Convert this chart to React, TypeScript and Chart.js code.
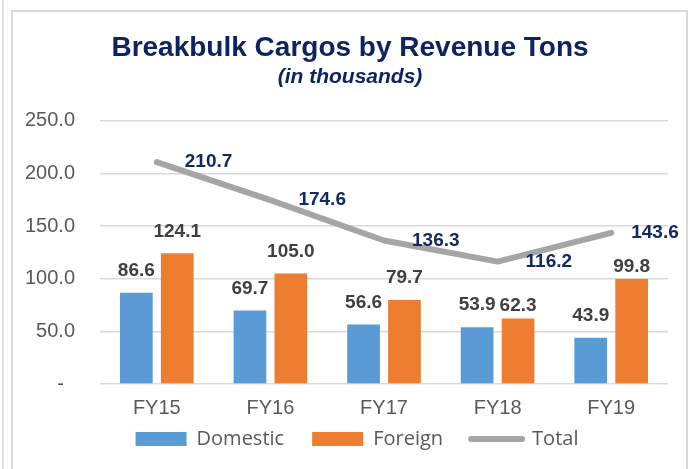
import React, { useEffect, useRef } from "react";
import { Chart, registerables } from "chart.js";

Chart.register(...registerables);

const categories = ["FY15", "FY16", "FY17", "FY18", "FY19"];
const domestic = [86.6, 69.7, 56.6, 53.9, 43.9];
const foreign = [124.1, 105.0, 79.7, 62.3, 99.8];
const total = [210.7, 174.6, 136.3, 116.2, 143.6];
const yTicks = [0, 50, 100, 150, 200, 250];

// label offsets (style only)
const barLabelLift = [
  [22, 22, 22, 22, 22],
  [22, 22, 22, 13, 12],
];
const totalLabelDx = [28, 28, 28, 28, 20];

const ARIAL = "'Liberation Sans', Arial, sans-serif";

const labelPlugin = {
  id: "valueLabels",
  afterLayout(chart: any) {
    // widen label clip areas so the tick labels are not cut
    chart.scales.y.left = 0;
    chart.scales.x.bottom = chart.height;
    // nudge legend to the right
    chart.legend.left += 7;
    chart.legend.right += 7;
  },
  afterDatasetsDraw(chart: any) {
    const ctx = chart.ctx;
    ctx.save();
    [0, 1].forEach((di) => {
      const meta = chart.getDatasetMeta(di);
      const data = chart.data.datasets[di].data as number[];
      meta.data.forEach((el: any, i: number) => {
        ctx.font = `bold 19px ${ARIAL}`;
        ctx.fillStyle = "#404040";
        ctx.textAlign = "center";
        ctx.textBaseline = "middle";
        ctx.fillText(data[i].toFixed(1), el.x, el.y - barLabelLift[di][i]);
      });
    });
    const lm = chart.getDatasetMeta(2);
    const td = chart.data.datasets[2].data as number[];
    lm.data.forEach((el: any, i: number) => {
      ctx.font = `bold 19px ${ARIAL}`;
      ctx.fillStyle = "#112A63";
      ctx.textAlign = "left";
      ctx.textBaseline = "middle";
      ctx.fillText(td[i].toFixed(1), el.x + totalLabelDx[i], el.y);
    });
    ctx.restore();
  },
};

export default function App() {
  const ref = useRef<HTMLCanvasElement>(null);
  useEffect(() => {
    if (!ref.current) return;
    const chart = new Chart(ref.current, {
      type: "bar",
      data: {
        labels: categories,
        datasets: [
          {
            type: "bar",
            label: "Domestic",
            data: domestic,
            backgroundColor: "#5B9BD5",
            categoryPercentage: 0.72,
            barPercentage: 0.8,
            order: 2,
          },
          {
            type: "bar",
            label: "Foreign",
            data: foreign,
            backgroundColor: "#ED7D31",
            categoryPercentage: 0.72,
            barPercentage: 0.8,
            order: 2,
          },
          {
            type: "line",
            label: "Total",
            data: total,
            borderColor: "#A5A5A5",
            backgroundColor: "#A5A5A5",
            borderWidth: 6,
            pointRadius: 0,
            borderCapStyle: "round",
            borderJoinStyle: "round",
            tension: 0,
            order: 1,
          },
        ],
      } as any,
      options: {
        responsive: false,
        animation: false,
        layout: { padding: { left: 32, right: 20, top: 14, bottom: 10 } },
        scales: {
          x: {
            grid: { display: false, drawTicks: false },
            border: { display: false },
            ticks: { color: "#595959", font: { family: ARIAL, size: 20 }, padding: 12 },
            afterFit: (s: any) => {
              s.height = 17;
            },
          },
          y: {
            min: 0,
            max: 250,
            afterBuildTicks: (s: any) => {
              s.ticks = yTicks.map((v) => ({ value: v }));
            },
            grid: { color: "#D9D9D9", lineWidth: 1.5, drawTicks: false },
            border: { display: false },
            ticks: {
              color: "#595959",
              font: { family: ARIAL, size: 20 },
              padding: 25,
              callback: (v: any) => (Number(v) === 0 ? "-  " : Number(v).toFixed(1)),
            },
            afterFit: (s: any) => {
              s.width = 68;
            },
          },
        },
        plugins: {
          title: {
            display: true,
            text: "Breakbulk Cargos by Revenue Tons",
            color: "#0C2461",
            font: { family: ARIAL, size: 28, weight: "bold" },
            padding: { top: 17, bottom: 0 },
          },
          subtitle: {
            display: true,
            text: "(in thousands)",
            color: "#0C2461",
            font: { family: ARIAL, size: 21, weight: "bold", style: "italic" },
            padding: { top: 0, bottom: 31 },
          },
          legend: {
            position: "bottom",
            labels: {
              usePointStyle: true,
              pointStyleWidth: 51,
              boxHeight: 14,
              padding: 28,
              color: "#595959",
              font: { family: "'Open Sans', sans-serif", size: 20 },
              sort: (a: any, b: any) => a.datasetIndex - b.datasetIndex,
              generateLabels: (c: any) =>
                Chart.defaults.plugins.legend.labels.generateLabels(c).map((l: any) => ({
                  ...l,
                  pointStyle: l.datasetIndex === 2 ? "line" : "rect",
                  lineWidth: l.datasetIndex === 2 ? 6 : 0,
                  lineCap: "round",
                })),
            },
          },
          tooltip: { enabled: false },
        },
      } as any,
      plugins: [labelPlugin],
    });
    return () => chart.destroy();
  }, []);

  return (
    <div style={{ position: "fixed", left: 0, top: 0, width: 688, height: 469, background: "#fff", overflow: "hidden" }}>
      <div style={{ position: "absolute", left: 2, top: 0, width: 2, height: 469, background: "#E3E3E3" }} />
      <div
        style={{
          position: "absolute",
          left: 11,
          top: 10,
          width: 677,
          height: 480,
          border: "2px solid #D9D9D9",
          boxSizing: "border-box",
        }}
      />
      <canvas ref={ref} width={688} height={469} style={{ position: "absolute", left: 0, top: 0 }} />
    </div>
  );
}
